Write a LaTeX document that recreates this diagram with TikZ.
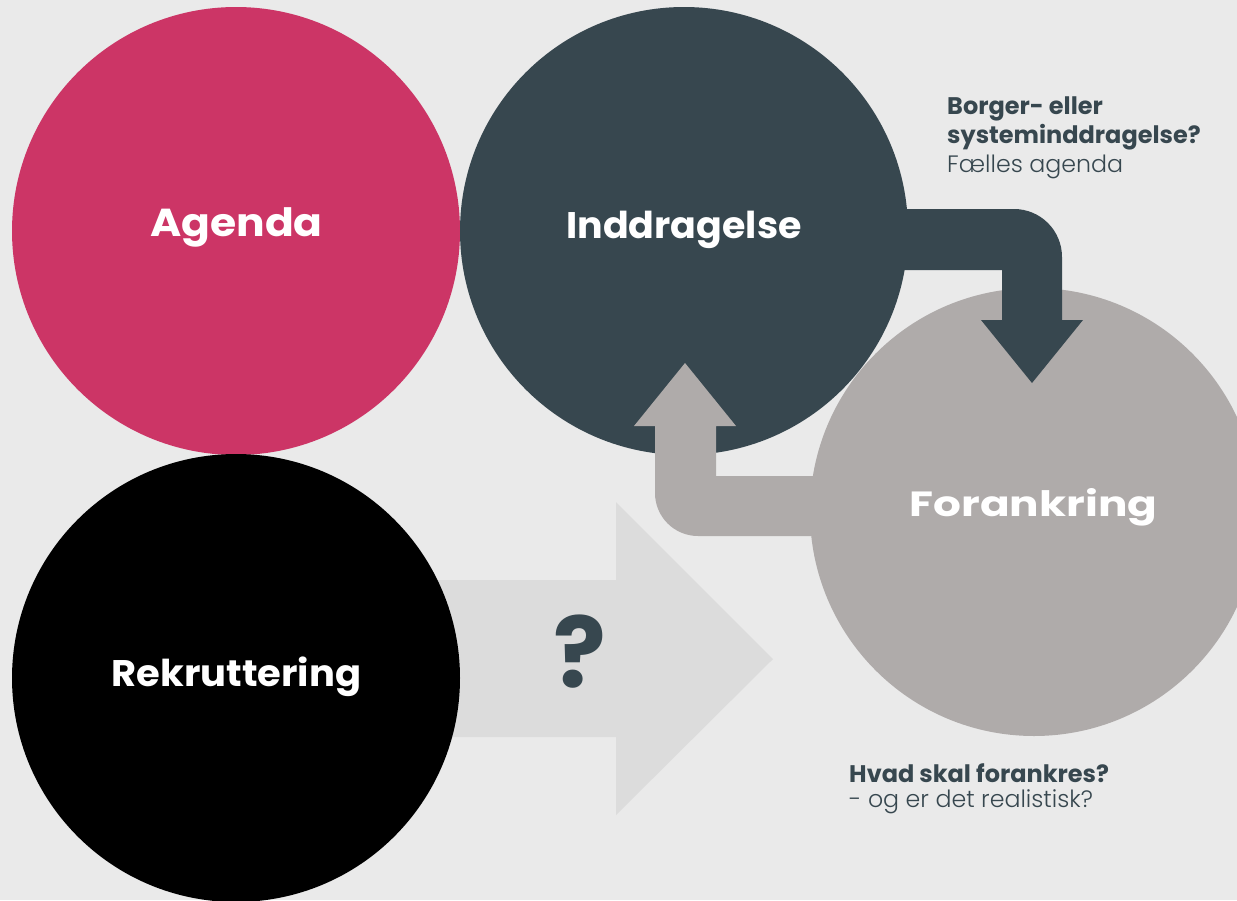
\documentclass[tikz,border=0pt]{standalone}
\usepackage{fontspec}
\setmainfont{Poppins}
\newfontfamily\poplight{Poppins Light}
\definecolor{pinkc}{HTML}{CC3566}
\definecolor{slate}{HTML}{37474F}
\definecolor{greyc}{HTML}{AFABAA}
\definecolor{lightc}{HTML}{DCDCDC}
\definecolor{bgc}{HTML}{EAEAEA}
\newcommand{\hstretch}[2]{\scalebox{#1}[1]{#2}}
\tikzset{
  bigcirc/.style={circle, minimum size=448pt, inner sep=0pt, draw=none},
  title/.style={anchor=base, text=white, inner sep=0pt},
  note/.style={anchor=base west, text=slate, inner sep=0pt, font=\bfseries\fontsize{24}{27}\selectfont},
  lightnote/.style={anchor=base west, text=slate, inner sep=0pt, font=\poplight\fontsize{23.7}{27}\selectfont},
}
\begin{document}
\begin{tikzpicture}[x=1pt,y=-1pt]
\useasboundingbox (0,0) rectangle (1237,900);
\clip (0,0) rectangle (1237,900);
\fill[bgc] (0,0) rectangle (1237,900);
% light arrow
\fill[lightc] (400,580) -- (616,580) -- (616,502) -- (773,659) -- (616,815) -- (616,737) -- (400,737) -- cycle;
% circles
\node[bigcirc, fill=pinkc] (agenda) at (236,231) {};
\node[bigcirc, fill=black] (rekrut) at (236,678) {};
\node[bigcirc, fill=slate] (inddrag) at (684,231) {};
\node[bigcirc, fill=greyc] (forank) at (1034,512) {};
% dark arrow
\fill[slate] (870,209) -- (1014,209) arc[start angle=90, end angle=0, radius=48pt] -- (1062,320) -- (1083,320) -- (1032,383) -- (981,320) -- (1002,320) -- (1002,270) -- (870,270) -- cycle;
% grey arrow
\fill[greyc] (840,476) -- (716,476) -- (716,426) -- (736,426) -- (685,363) -- (634,426) -- (655,426) -- (655,493) arc[start angle=180, end angle=270, radius=43pt] -- (840,536) -- cycle;
% titles
\node[title, font=\bfseries\fontsize{39}{42}\selectfont] (agendaT) at (236.5,236) {\hstretch{1.088}{Agenda}};
\node[title, font=\bfseries\fontsize{37}{40}\selectfont] (inddragT) at (684,238) {\hstretch{1.026}{Inddragelse}};
\node[title, font=\bfseries\fontsize{37}{40}\selectfont] (rekrutT) at (236.5,686) {\hstretch{1.04}{Rekruttering}};
\node[title, font=\bfseries\fontsize{35}{38}\selectfont] (forankT) at (1033.5,516) {\hstretch{1.25}{Forankring}};
\node[anchor=base, text=slate, inner sep=0pt, font=\bfseries\fontsize{98}{100}\selectfont] (qm) at (580,687) {?};
% notes
\node[note] (n1) at (947,114) {Borger- eller};
\node[note] (n2) at (947,143) {systeminddragelse?};
\node[lightnote] (n3) at (947,172) {Fælles agenda};
\node[note] (n4) at (849,782) {Hvad skal forankres?};
\node[lightnote] (n5) at (849,807) {- og er det realistisk?};
\end{tikzpicture}
\end{document}
